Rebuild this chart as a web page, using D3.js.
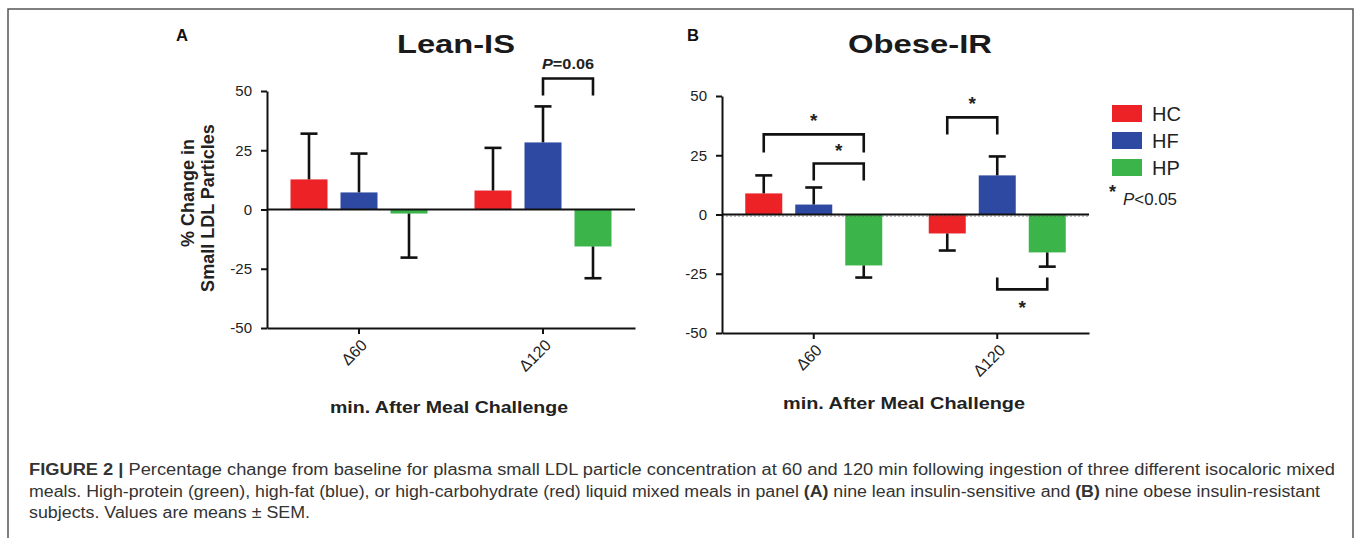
<!DOCTYPE html>
<html>
<head>
<meta charset="utf-8">
<script src="https://cdn.jsdelivr.net/npm/d3@7"></script>
<style>
  body { margin: 0; background: #fff; }
  svg text { font-family: "Liberation Sans", Arial, sans-serif; }
</style>
</head>
<body>
<div id="fig"></div>
<script>
// data (% change, mean and SEM)
const groups = ["Δ60", "Δ120"];
const meals = ["HC", "HF", "HP"];
const mealColors = ["#ec2227", "#2e49a2", "#3bb44a"];

const leanMean60 = [12.7, 7.2, -1.7];
const leanMean120 = [8.0, 28.3, -15.6];
const leanSem60 = [19.3, 16.4, 18.6];
const leanSem120 = [18.0, 15.2, 13.4];

const obeseMean60 = [8.9, 4.2, -21.5];
const obeseMean120 = [-8.0, 16.5, -16.0];
const obeseSem60 = [7.6, 7.2, 5.1];
const obeseSem120 = [7.2, 8.0, 6.0];

const yTicks = [-50, -25, 0, 25, 50];

// significance brackets: group, from meal, to meal, level, leg end level, label
const leanBrackets = [
  {group: "Δ120", from: "HF", to: "HP", top: 55.3, end: 48.1, label: "P=0.06"}
];
const obeseBrackets = [
  {group: "Δ60", from: "HC", to: "HP", top: 33.8, end: 26.2, label: "*"},
  {group: "Δ60", from: "HF", to: "HP", top: 21.5, end: 14.3, label: "*"},
  {group: "Δ120", from: "HC", to: "HF", top: 41.0, end: 33.8, label: "*"},
  {group: "Δ120", from: "HF", to: "HP", top: -31.6, end: -26.6, label: "*"}
];

const W = 1357, H = 538;
const svg = d3.select("#fig").append("svg")
    .attr("width", W)
    .attr("height", H);

// outer frame of the figure
svg.append("rect")
    .attr("x", 8).attr("y", 9)
    .attr("width", 1345).attr("height", 560)
    .attr("fill", "none")
    .attr("stroke", "#555")
    .attr("stroke-width", 1.5);

function makeRows(m60, m120, s60, s120) {
  const rows = [];
  meals.forEach((m, i) => {
    rows.push({group: groups[0], meal: m, mean: m60[i], sem: s60[i]});
    rows.push({group: groups[1], meal: m, mean: m120[i], sem: s120[i]});
  });
  return rows;
}

const color = d3.scaleOrdinal().domain(meals).range(mealColors);

function drawPanel(p) {
  const g = svg.append("g");

  const y = d3.scaleLinear().domain([-50, 50]).range([p.yBottom, p.yTop]);
  const x = d3.scaleBand().domain(groups).range([p.xLeft, p.xRight]);
  const xm = d3.scaleBand().domain(meals).range([-75, 75])
      .paddingInner(0.26).paddingOuter(0.13);
  const cx = (grp, m) => x(grp) + x.bandwidth() / 2 + xm(m) + xm.bandwidth() / 2;

  // bars
  g.selectAll("rect.bar")
    .data(p.rows)
    .join("rect")
      .attr("class", "bar")
      .attr("x", d => x(d.group) + x.bandwidth() / 2 + xm(d.meal))
      .attr("width", xm.bandwidth())
      .attr("y", d => y(Math.max(0, d.mean)))
      .attr("height", d => Math.abs(y(d.mean) - y(0)))
      .attr("fill", d => color(d.meal));

  // one-sided error bars
  const tip = d => d.mean >= 0 ? d.mean + d.sem : d.mean - d.sem;
  g.selectAll("line.err")
    .data(p.rows)
    .join("line")
      .attr("class", "err")
      .attr("x1", d => cx(d.group, d.meal))
      .attr("x2", d => cx(d.group, d.meal))
      .attr("y1", d => y(d.mean))
      .attr("y2", d => y(tip(d)))
      .attr("stroke", "#111")
      .attr("stroke-width", 2.6);
  g.selectAll("line.cap")
    .data(p.rows)
    .join("line")
      .attr("class", "cap")
      .attr("x1", d => cx(d.group, d.meal) - 8.5)
      .attr("x2", d => cx(d.group, d.meal) + 8.5)
      .attr("y1", d => y(tip(d)))
      .attr("y2", d => y(tip(d)))
      .attr("stroke", "#111")
      .attr("stroke-width", 2.6);

  // zero line
  g.append("line")
      .attr("x1", p.xLeft).attr("x2", p.xRight)
      .attr("y1", y(0)).attr("y2", y(0))
      .attr("stroke", "#111")
      .attr("stroke-width", 1.8);
  if (p.dottedZero) {
    g.append("line")
        .attr("x1", p.xLeft).attr("x2", p.xRight)
        .attr("y1", y(0) + 1.5).attr("y2", y(0) + 1.5)
        .attr("stroke", "#555")
        .attr("stroke-width", 0.8)
        .attr("stroke-dasharray", "2,2");
  }

  // axes
  const yAxis = g.append("g")
      .attr("transform", `translate(${p.xLeft},0)`)
      .call(d3.axisLeft(y).tickValues(yTicks).tickSize(6).tickSizeOuter(0).tickPadding(9)
        .tickFormat(d => d < 0 ? "-" + Math.abs(d) : d));
  yAxis.selectAll("path, line").attr("stroke", "#111").attr("stroke-width", 2);
  yAxis.selectAll("text").attr("font-size", 15).attr("fill", "#222");

  const xAxis = g.append("g")
      .attr("transform", `translate(0,${p.yBottom})`)
      .call(d3.axisBottom(x).tickSize(6).tickSizeOuter(0).tickPadding(6));
  xAxis.selectAll("path, line").attr("stroke", "#111").attr("stroke-width", 2);
  xAxis.selectAll("text")
      .attr("font-size", 16).attr("fill", "#222")
      .attr("text-anchor", "end")
      .attr("dx", "-0.4em").attr("dy", "0.45em")
      .attr("transform", "rotate(-45)");

  // brackets
  p.brackets.forEach(b => {
    const x1 = cx(b.group, b.from), x2 = cx(b.group, b.to);
    const yt = y(b.top), ye = y(b.end);
    g.append("path")
        .attr("d", `M${x1},${ye}V${yt}H${x2}V${ye}`)
        .attr("fill", "none")
        .attr("stroke", "#111")
        .attr("stroke-width", 2.6);
    const above = b.end < b.top;
    const t = g.append("text")
        .attr("x", (x1 + x2) / 2)
        .attr("y", above ? yt - (b.label === "*" ? 7 : 9) : yt + 25)
        .attr("text-anchor", "middle")
        .attr("font-weight", "bold")
        .attr("fill", "#222");
    if (b.label === "*") {
      t.attr("font-size", 19).text("*");
    } else {
      t.attr("font-size", 14.5).attr("textLength", 52).attr("lengthAdjust", "spacingAndGlyphs");
      t.append("tspan").attr("font-style", "italic").text("P");
      t.append("tspan").text(b.label.slice(1));
    }
  });

  // titles
  g.append("text")
      .attr("x", p.titleX - p.titleW / 2).attr("y", 53)
      .attr("font-size", 26).attr("font-weight", "bold").attr("fill", "#1a1a1a")
      .attr("textLength", p.titleW).attr("lengthAdjust", "spacingAndGlyphs")
      .text(p.title);
  g.append("text")
      .attr("x", p.letterX).attr("y", 41)
      .attr("font-size", 16).attr("font-weight", "bold").attr("fill", "#111")
      .attr("textLength", 12).attr("lengthAdjust", "spacingAndGlyphs")
      .text(p.letter);
  g.append("text")
      .attr("x", p.xTitleX - p.xTitleW / 2).attr("y", p.xTitleY)
      .attr("font-size", 16.5).attr("font-weight", "bold").attr("fill", "#222")
      .attr("textLength", p.xTitleW).attr("lengthAdjust", "spacingAndGlyphs")
      .text("min. After Meal Challenge");
}

drawPanel({
  rows: makeRows(leanMean60, leanMean120, leanSem60, leanSem120),
  brackets: leanBrackets,
  xLeft: 267, xRight: 635, yTop: 91, yBottom: 328,
  title: "Lean-IS", titleX: 456, titleW: 118, letter: "A", letterX: 176,
  xTitleX: 449, xTitleW: 238, xTitleY: 413, dottedZero: false
});

drawPanel({
  rows: makeRows(obeseMean60, obeseMean120, obeseSem60, obeseSem120),
  brackets: obeseBrackets,
  xLeft: 722, xRight: 1089, yTop: 96, yBottom: 333,
  title: "Obese-IR", titleX: 920, titleW: 144, letter: "B", letterX: 687,
  xTitleX: 904, xTitleW: 242, xTitleY: 409, dottedZero: true
});

// y-axis title of panel A
const yTitle = svg.append("g")
    .attr("font-weight", "bold")
    .attr("font-size", 18)
    .attr("fill", "#222")
    .attr("text-anchor", "middle");
[["% Change in", 194, 193], ["Small LDL Particles", 214, 208]].forEach(([s, bx, cy]) => {
  yTitle.append("text")
      .attr("transform", `translate(${bx},${cy}) rotate(-90)`)
      .text(s);
});

// legend
const legend = svg.append("g").attr("transform", "translate(1112,105)");
meals.forEach((m, i) => {
  legend.append("rect")
      .attr("x", 0).attr("y", i * 27)
      .attr("width", 30).attr("height", 17)
      .attr("fill", color(m));
  legend.append("text")
      .attr("x", 40).attr("y", i * 27 + 16)
      .attr("font-size", 20).attr("fill", "#222")
      .text(m);
});
legend.append("text")
    .attr("x", -3).attr("y", 93)
    .attr("font-size", 18).attr("font-weight", "bold").attr("fill", "#222")
    .text("*");
const pl = legend.append("text")
    .attr("x", 11).attr("y", 100)
    .attr("font-size", 17).attr("fill", "#222")
    .attr("textLength", 54).attr("lengthAdjust", "spacingAndGlyphs");
pl.append("tspan").attr("font-style", "italic").text("P");
pl.append("tspan").text("<0.05");

// caption
const capLines = [
  [["FIGURE 2 | ", true], ["Percentage change from baseline for plasma small LDL particle concentration at 60 and 120 min following ingestion of three different isocaloric mixed", false]],
  [["meals. High-protein (green), high-fat (blue), or high-carbohydrate (red) liquid mixed meals in panel ", false], ["(A)", true], [" nine lean insulin-sensitive and ", false], ["(B)", true], [" nine obese insulin-resistant", false]],
  [["subjects. Values are means ± SEM.", false]]
];
const capWidths = [1306, 1291, 281];
capLines.forEach((line, i) => {
  const t = svg.append("text")
      .attr("x", 29).attr("y", 475 + i * 21.5)
      .attr("font-size", 16).attr("fill", "#333")
      .attr("textLength", capWidths[i]).attr("lengthAdjust", "spacingAndGlyphs")
      .attr("xml:space", "preserve");
  line.forEach(([s, b]) => {
    t.append("tspan").attr("font-weight", b ? "bold" : "normal").text(s);
  });
});
</script>
</body>
</html>
